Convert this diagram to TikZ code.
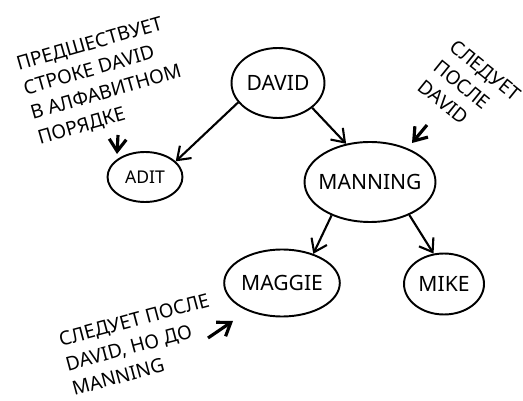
\documentclass[tikz,border=0pt]{standalone}
\usepackage{fontspec}
\setmainfont{Noto Sans}
\usetikzlibrary{arrows.meta,shapes.geometric}

\begin{document}
\begin{tikzpicture}[x=0.02cm,y=-0.02cm,>={Straight Barb[length=2.4mm,width=3.4mm]},
  person/.style={draw,ellipse,line width=1.1pt,inner sep=0pt,font=\fontsize{12}{14}\selectfont},
  note/.style={align=left,font=\fontsize{11}{14.5}\selectfont},
  link/.style={->,line width=1.2pt},
  hint/.style={->,line width=1.8pt}]
\useasboundingbox (0,0) rectangle (523,401);
\node[person,minimum width=1.86cm,minimum height=1.4cm] (david) at (278,83) {DAVID};
\node[person,minimum width=1.5cm,minimum height=1.0cm,font=\fontsize{10}{12}\selectfont] (adit) at (145,177) {ADIT};
\node[person,minimum width=2.6cm,minimum height=1.6cm,inner xsep=-3pt] (manning) at (370,182) {MANNING};
\node[person,minimum width=2.26cm,minimum height=1.34cm] (maggie) at (282,283) {MAGGIE};
\node[person,minimum width=1.6cm,minimum height=1.22cm] (mike) at (444,284) {MIKE};
\draw[link] (david.206) -- (adit.27);
\draw[link] (david.324) -- (manning.122);
\draw[link] (manning.221) -- (maggie.43);
\draw[link] (manning.320) -- (mike.109);
% notes
\node[note,rotate=16,anchor=west] (before) at (22,104) {ПРЕДШЕСТВУЕТ\\СТРОКЕ DAVID\\В АЛФАВИТНОМ\\ПОРЯДКЕ};
\node[note,rotate=-39,anchor=west] (after) at (432,60) {СЛЕДУЕТ\\ПОСЛЕ\\DAVID};
\node[note,rotate=15,anchor=west] (between) at (60,366) {СЛЕДУЕТ ПОСЛЕ\\DAVID, НО ДО\\MANNING};
\coordinate (h1) at (118,135);
\coordinate (t1) at (117,154);
\coordinate (h2) at (427,125);
\coordinate (t2) at (412,143);
\coordinate (h3) at (208,338);
\coordinate (t3) at (233,321);
\draw[hint] (h1) -- (t1);
\draw[hint] (h2) -- (t2);
\draw[hint] (h3) -- (t3);
\end{tikzpicture}
\end{document}
